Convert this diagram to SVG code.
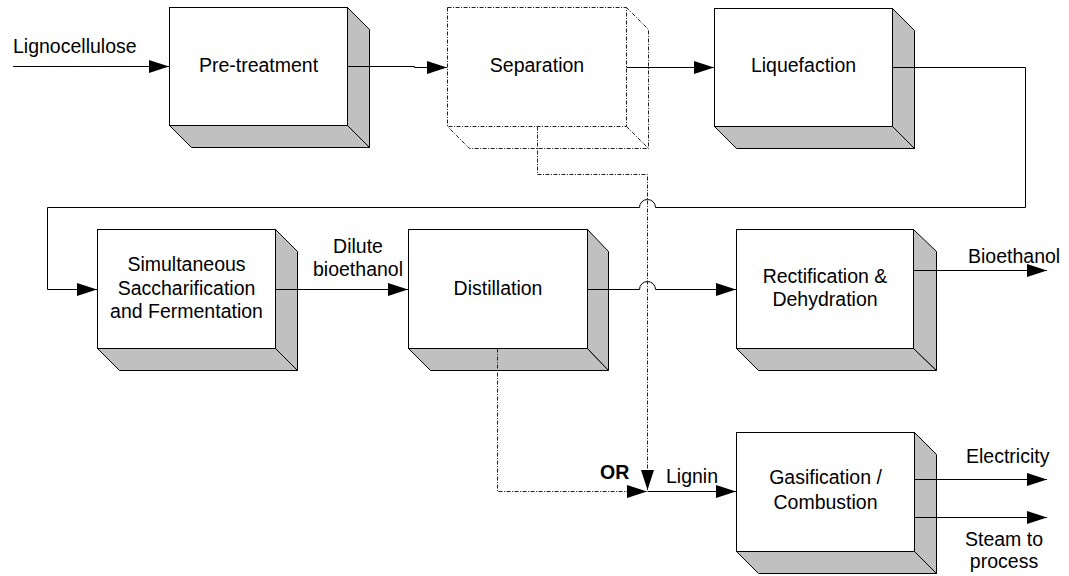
<svg xmlns="http://www.w3.org/2000/svg" width="1069" height="576" viewBox="0 0 1069 576">
<style>
text{font-family:"Liberation Sans",Arial,sans-serif;font-size:19.5px;fill:#000}
.c{text-anchor:middle}
.face{fill:#fff;stroke:#000;stroke-width:1}
.shade{fill:#c0c0c0;stroke:#000;stroke-width:1;stroke-linejoin:miter}
.dd{fill:none;stroke:#222;stroke-width:1;stroke-dasharray:4,1.5,1,1.5}
.ln{fill:none;stroke:#000;stroke-width:1}
</style>
<defs>
<marker id="ah" markerUnits="userSpaceOnUse" markerWidth="20" markerHeight="13" refX="20" refY="6.5" orient="auto">
<path d="M0,0 L20,6.5 L0,13 z" fill="#000"/>
</marker>
</defs>
<rect width="1069" height="576" fill="#fff"/>

<g id="pretreatment">
<path class="shade" d="M169.5,125.5 L347.5,125.5 L369.5,147.5 L191.5,147.5 Z"/>
<path class="shade" d="M347.5,7.5 L369.5,29.5 L369.5,147.5 L347.5,125.5 Z"/>
<rect class="face" x="169.5" y="7.5" width="178" height="118"/>
<text class="c" x="258.5" y="72">Pre-treatment</text>
</g>

<g id="separation">
<rect x="447.5" y="7.5" width="179" height="119" fill="#fff" class="dd"/>
<path class="dd" d="M626.5,7.5 L648.5,29.5 L648.5,148.5 L469.5,148.5 L447.5,126.5 M626.5,126.5 L648.5,148.5"/>
<text class="c" x="537" y="72">Separation</text>
</g>

<g id="liquefaction">
<path class="shade" d="M714.5,126.5 L892.5,126.5 L914.5,148.5 L736.5,148.5 Z"/>
<path class="shade" d="M892.5,8.5 L914.5,30.5 L914.5,148.5 L892.5,126.5 Z"/>
<rect class="face" x="714.5" y="8.5" width="178" height="118"/>
<text class="c" x="803.5" y="72">Liquefaction</text>
</g>

<g id="ssf">
<path class="shade" d="M97.5,348.5 L275.5,348.5 L297.5,370.5 L119.5,370.5 Z"/>
<path class="shade" d="M275.5,229.5 L297.5,251.5 L297.5,370.5 L275.5,348.5 Z"/>
<rect class="face" x="97.5" y="229.5" width="178" height="119"/>
<text class="c" x="186.5" y="271">Simultaneous</text>
<text class="c" x="186.5" y="294.5">Saccharification</text>
<text class="c" x="186.5" y="318">and Fermentation</text>
</g>

<g id="distillation">
<path class="shade" d="M408.5,348.5 L587.5,348.5 L608.5,370.5 L430.5,370.5 Z"/>
<path class="shade" d="M587.5,229.5 L608.5,251.5 L608.5,370.5 L587.5,348.5 Z"/>
<rect class="face" x="408.5" y="229.5" width="179" height="119"/>
<text class="c" x="498" y="295">Distillation</text>
</g>

<g id="rectification">
<path class="shade" d="M736.5,348.5 L913.5,348.5 L936.5,370.5 L758.5,370.5 Z"/>
<path class="shade" d="M913.5,229.5 L936.5,251.5 L936.5,370.5 L913.5,348.5 Z"/>
<rect class="face" x="736.5" y="229.5" width="177" height="119"/>
<text class="c" x="825" y="283">Rectification &amp;</text>
<text class="c" x="825" y="306">Dehydration</text>
</g>

<g id="gasification">
<path class="shade" d="M736.5,551.5 L914.5,551.5 L936.5,573.5 L758.5,573.5 Z"/>
<path class="shade" d="M914.5,432.5 L936.5,454.5 L936.5,573.5 L914.5,551.5 Z"/>
<rect class="face" x="736.5" y="432.5" width="178" height="119"/>
<text class="c" x="825.5" y="484">Gasification /</text>
<text class="c" x="825.5" y="509">Combustion</text>
</g>

<g id="connectors">
<path class="ln" d="M13,66.5 H169" marker-end="url(#ah)"/>
<path class="ln" d="M347.5,66.5 H414.5 V67.5 H447" marker-end="url(#ah)"/>
<path class="ln" d="M626.5,67.5 H714" marker-end="url(#ah)"/>
<path class="ln" d="M892.5,67.5 H1025.5 V207.5 H655.5 A8,8 0 0 0 639.5,207.5 H47.5 V289.5 H97" marker-end="url(#ah)"/>
<path class="ln" d="M275.5,289.5 H408" marker-end="url(#ah)"/>
<path class="ln" d="M587.5,289.5 H639.5 A8,8 0 0 1 655.5,289.5 H736" marker-end="url(#ah)"/>
<path class="ln" d="M913.5,270.5 H1047" marker-end="url(#ah)"/>
<path class="dd" d="M537.5,126.5 V174.5 H647.5 V490" marker-end="url(#ah)"/>
<path class="dd" d="M497.5,348.5 V491.5 H647" marker-end="url(#ah)"/>
<path class="ln" d="M647.5,491.5 H736" marker-end="url(#ah)"/>
<path class="ln" d="M914.5,479.5 H1047" marker-end="url(#ah)"/>
<path class="ln" d="M914.5,517.5 H1047" marker-end="url(#ah)"/>
<text x="13" y="53">Lignocellulose</text>
<text class="c" x="358" y="253">Dilute</text>
<text class="c" x="358" y="276">bioethanol</text>
<text x="968" y="263">Bioethanol</text>
<text x="600" y="479" style="font-weight:bold">OR</text>
<text x="666" y="483">Lignin</text>
<text x="966" y="463">Electricity</text>
<text class="c" x="1004" y="546">Steam to</text>
<text class="c" x="1004" y="568">process</text>
</g>
</svg>
